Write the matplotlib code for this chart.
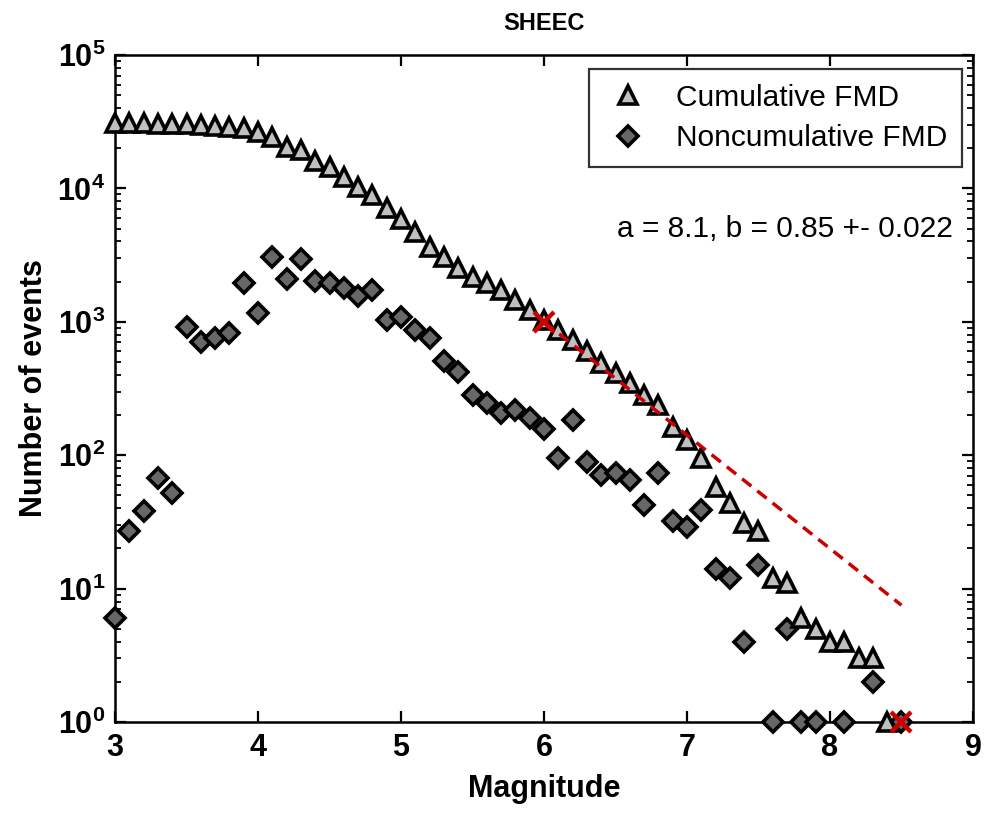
import matplotlib
matplotlib.use("Agg")
import matplotlib.pyplot as plt
import numpy as np

plt.rcParams['font.family'] = ['Liberation Sans', 'DejaVu Sans']
plt.rcParams['mathtext.fontset'] = 'custom'
plt.rcParams['mathtext.bf'] = 'Liberation Sans:bold'
plt.rcParams['mathtext.rm'] = 'Liberation Sans'

# magnitude bins, noncumulative counts (nan = empty bin)
mags = [3.0, 3.1, 3.2, 3.3, 3.4, 3.5, 3.6, 3.7, 3.8, 3.9,
        4.0, 4.1, 4.2, 4.3, 4.4, 4.5, 4.6, 4.7, 4.8, 4.9,
        5.0, 5.1, 5.2, 5.3, 5.4, 5.5, 5.6, 5.7, 5.8, 5.9,
        6.0, 6.1, 6.2, 6.3, 6.4, 6.5, 6.6, 6.7, 6.8, 6.9,
        7.0, 7.1, 7.2, 7.3, 7.4, 7.5, 7.6, 7.7, 7.8, 7.9,
        8.0, 8.1, 8.2, 8.3, 8.4, 8.5]
noncum = [6, 27, 38, 67, 52, 920, 710, 750, 820, 1940,
          1160, 3040, 2080, 2940, 2030, 1950, 1780, 1550, 1730, 1030,
          1080, 867, 752, 512, 420, 283, 245, 206, 218, 189,
          156, 95, 184, 89, 71, 74, 65, 42, 74, 32,
          29, 39, 14, 12, 4, 15, 1, 5, 1, 1,
          np.nan, 1, np.nan, 2, np.nan, 1]

# cumulative counts, shown up to M 8.4
cum_mags = mags[:-1]
cum = [30700, 30700, 30700, 30600, 30600, 30500, 29900, 29400, 28700, 28200,
       26600, 24400, 20500, 19400, 16100, 14500, 12100, 10300, 8900, 7100,
       5900, 4700, 3660, 3080, 2520, 2180, 1940, 1730, 1460, 1220,
       1030, 870, 730, 600, 490, 410, 346, 283, 238, 164,
       130, 96, 58, 44, 31, 27, 12, 11, 6, 5,
       4, 4, 3, 3, 1]

# Gutenberg-Richter fit (a = 8.1, b = 0.85) between Mc and Mmax
fit_mags = [6.0, 8.5]
fit_counts = [1000, 7.5]
mark_mags = [6.0, 8.5]
mark_counts = [1000, 1]

fig = plt.figure(figsize=(9.85, 8.27), dpi=100)
ax = fig.add_axes([0.1168, 0.127, 0.871, 0.8065])

h2, = ax.plot(mags, noncum, linestyle='none', marker='D', ms=10.5,
              mfc='#676767', mec='black', mew=2.6, clip_on=False, zorder=3)
h1, = ax.plot(cum_mags, cum, linestyle='none', marker='^', ms=12.5,
              mfc='#c0c0c0', mec='black', mew=2.6, clip_on=False, zorder=4)
ax.plot(fit_mags, fit_counts, color='#cc0000', lw=2.5, dashes=(3.4, 2.2),
        zorder=5)
ax.plot(mark_mags, mark_counts, linestyle='none', marker='x', ms=14,
        mec='#cc0000', mew=3.2, clip_on=False, zorder=6)

ax.set_yscale('log')
ax.set_xlim(3, 9)
ax.set_ylim(1, 1e5)
ax.set_xticks([3, 4, 5, 6, 7, 8, 9])
ax.set_xticklabels(['3', '4', '5', '6', '7', '8', '9'],
                   fontsize=22, fontweight='bold')
yt = [1, 10, 100, 1e3, 1e4, 1e5]
ax.set_yticks(yt)
ax.set_yticklabels([r'$\mathbf{10^{%d}}$' % i for i in range(6)], fontsize=22)

ax.tick_params(which='both', direction='in', top=True, right=True)
ax.tick_params(which='major', length=8, width=1.6)
ax.tick_params(which='minor', length=4, width=1.3)
ax.tick_params(axis='x', pad=8)
ax.tick_params(axis='y', pad=7)
for s in ax.spines.values():
    s.set_linewidth(1.8)

ax.set_xlabel('Magnitude', fontsize=22, fontweight='bold', labelpad=8)
ax.set_ylabel('Number of events', fontsize=22, fontweight='bold', labelpad=6)
ax.set_title('SHEEC', fontsize=17, fontweight='bold', pad=18)

leg = ax.legend([h1, h2], ['Cumulative FMD', 'Noncumulative FMD'],
                loc='upper right', bbox_to_anchor=(0.987, 0.979),
                borderaxespad=0, fontsize=21.5, numpoints=1, fancybox=False,
                handlelength=1.6, handletextpad=0.8, borderpad=0.5,
                labelspacing=0.42)
leg.get_frame().set_edgecolor('black')
leg.get_frame().set_linewidth(1.6)

ax.text(0.977, 0.739, 'a = 8.1, b = 0.85 +- 0.022', transform=ax.transAxes,
        ha='right', va='center', fontsize=21.5)

fig.savefig('out.png', dpi=100)
